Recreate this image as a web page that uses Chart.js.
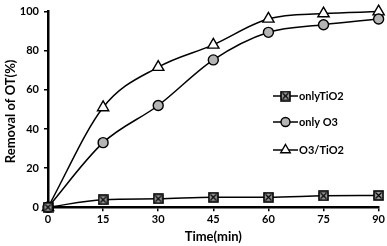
<!DOCTYPE html>
<html><head><meta charset="utf-8">
<script src="https://cdn.jsdelivr.net/npm/chart.js@4/dist/chart.umd.min.js"></script>
<style>html,body{margin:0;padding:0;background:#fff}#w{width:387px;height:246px}</style>
</head><body><div id="w"><canvas id="c"></canvas></div>
<script>
const times = [0, 15, 30, 45, 60, 75, 90];
const onlyTiO2 = [0, 3.8, 4.3, 5.1, 5.1, 5.8, 6.0];
const onlyO3 = [0, 33, 52, 75.3, 89.4, 93.3, 96.2];
const o3TiO2 = [0, 51, 71.6, 83, 96.3, 99, 100];
const seriesNames = ['onlyTiO2', 'only O3', 'O3/TiO2'];
const xTicks = [0, 15, 30, 45, 60, 75, 90];
const yTicks = [0, 20, 40, 60, 80, 100];
const xTitle = 'Time(min)';
const yTitle = 'Removal of OT(%)';

function boxX(){
  const s = 11, c = document.createElement('canvas'); c.width = s; c.height = s;
  const g = c.getContext('2d');
  g.fillStyle = '#9a9a9a'; g.fillRect(1,1,s-2,s-2);
  g.strokeStyle = '#000'; g.lineWidth = 1.6; g.strokeRect(1,1,s-2,s-2);
  g.lineWidth = 1.2; g.beginPath(); g.moveTo(2.5,2.5); g.lineTo(s-2.5,s-2.5); g.moveTo(s-2.5,2.5); g.lineTo(2.5,s-2.5); g.stroke();
  return c;
}
const sq = boxX();
const font = {family: 'Lato', weight: 'bold', size: 11};

const legendPlugin = {
  id: 'customLegend',
  afterDraw(chart){
    const ctx = chart.ctx;
    const ys = [96, 122, 150];
    ctx.save();
    chart.data.datasets.forEach((ds, i) => {
      const y = ys[i];
      ctx.strokeStyle = '#000'; ctx.lineWidth = 1.5;
      ctx.beginPath(); ctx.moveTo(273, y); ctx.lineTo(298, y); ctx.stroke();
      ctx.fillStyle = ds.pointBackgroundColor;
      ctx.strokeStyle = '#000'; ctx.lineWidth = ds.pointBorderWidth;
      Chart.helpers.drawPoint(ctx, {pointStyle: ds.pointStyle, radius: ds.legendRadius, borderWidth: ds.pointBorderWidth, rotation: 0}, 285.5, y);
      ctx.fillStyle = '#000';
      ctx.font = 'bold 11px Lato';
      ctx.textBaseline = 'middle';
      ctx.textAlign = 'left';
      ctx.fillText(ds.label, 299, y);
    });
    // y axis title
    const ya = chart.scales.y;
    ctx.translate(11, (ya.top + ya.bottom) / 2 + 2);
    ctx.rotate(-Math.PI / 2);
    ctx.font = 'bold 13px Lato';
    ctx.textAlign = 'center';
    ctx.textBaseline = 'middle';
    ctx.fillStyle = '#000';
    ctx.fillText(yTitle, 0, 0);
    ctx.restore();
  }
};

function mk(label, data, style, radius, bg, lr){
  return {label, data: times.map((t,i)=>({x:t, y:data[i]})), borderColor:'#000', borderWidth:1.5,
    pointStyle: style, pointRadius: radius, pointBackgroundColor: bg, pointBorderColor:'#000', pointBorderWidth:1.4,
    legendRadius: lr,
    tension: 0.4, cubicInterpolationMode: 'monotone', clip: false, fill: false};
}

new Chart(document.getElementById('c'), {
  type: 'line',
  data: { datasets: [
    mk(seriesNames[0], onlyTiO2, sq, 5, '#9a9a9a', 5),
    mk(seriesNames[1], onlyO3, 'circle', 5, '#b4b4b4', 4.5),
    mk(seriesNames[2], o3TiO2, 'triangle', 6.5, '#fff', 5.5)
  ]},
  options: {
    responsive: true, maintainAspectRatio: false, animation: false,
    layout: {padding: {top: 8, right: 7, left: 0, bottom: 0}},
    plugins: {legend: {display: false}, tooltip: {enabled: false}},
    scales: {
      x: {type: 'linear', min: 0, max: 90,
        afterBuildTicks: s => { s.ticks = xTicks.map(v => ({value: v})); },
        border: {color: '#000', width: 2.5},
        grid: {drawOnChartArea: false, drawTicks: true, tickLength: 4, color: '#000', lineWidth: 1.5},
        ticks: {color: '#000', font, padding: 2, maxRotation: 0},
        title: {display: true, text: xTitle, color: '#000', font: {family: 'Lato', weight: 'bold', size: 13}, padding: {top: 1, bottom: 1}}
      },
      y: {min: 0, max: 100,
        afterBuildTicks: s => { s.ticks = yTicks.map(v => ({value: v})); },
        afterFit: s => { s.width = 48; },
        border: {color: '#000', width: 2.5},
        grid: {drawOnChartArea: false, drawTicks: true, tickLength: 4, color: '#000', lineWidth: 1.5},
        ticks: {color: '#000', font, padding: 5},
        title: {display: false}
      }
    }
  },
  plugins: [legendPlugin]
});
</script></body></html>
